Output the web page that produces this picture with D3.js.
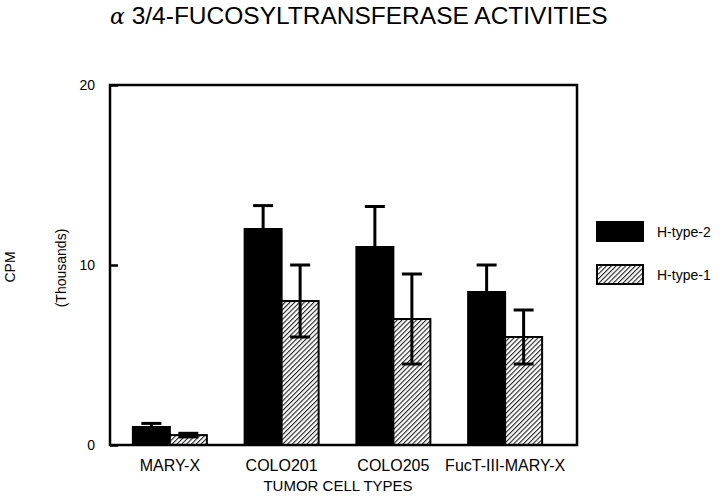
<!DOCTYPE html>
<html>
<head>
<meta charset="utf-8">
<script src="https://cdn.jsdelivr.net/npm/d3@7"></script>
<style>
  body { margin: 0; background: #fff; }
  text { font-family: "Liberation Sans", Arial, sans-serif; fill: #000; }
</style>
</head>
<body>
<div id="chart"></div>
<script>
// data (thousands of CPM)
var cellTypes = ["MARY-X", "COLO201", "COLO205", "FucT-III-MARY-X"];
var seriesNames = ["H-type-2", "H-type-1"];
var htype2 = [1.0, 12.0, 11.0, 8.5];
var htype2Err = [0.2, 1.3, 2.25, 1.5];
var htype1 = [0.55, 8.0, 7.0, 6.0];
var htype1Err = [0.1, 2.0, 2.5, 1.5];
var yTicks = [0, 10, 20];

var W = 720, H = 496;
var plot = {left: 110, top: 85, right: 577, bottom: 445};

var svg = d3.select("#chart")
  .append("svg")
    .attr("width", W)
    .attr("height", H);

// hatch pattern for H-type-1
var defs = svg.append("defs");
defs.append("pattern")
    .attr("id", "hatch")
    .attr("patternUnits", "userSpaceOnUse")
    .attr("width", 3.4)
    .attr("height", 3.4)
    .attr("patternTransform", "rotate(45)")
  .call(function(p) {
    p.append("rect").attr("width", 3.4).attr("height", 3.4).attr("fill", "#fff");
    p.append("line")
      .attr("x1", 0).attr("y1", 0).attr("x2", 0).attr("y2", 3.4)
      .attr("stroke", "#222").attr("stroke-width", 2.2);
  });

var x = d3.scaleBand()
  .domain(cellTypes)
  .range([114, 561])
  .padding(0);

var x1 = d3.scaleBand()
  .domain(seriesNames)
  .range([x.bandwidth() / 2 - 37, x.bandwidth() / 2 + 37]);

var y = d3.scaleLinear()
  .domain([0, 20])
  .range([plot.bottom, plot.top]);

var rows = cellTypes.map(function(c, i) {
  return [
    {cat: c, s: "H-type-2", v: htype2[i], e: htype2Err[i]},
    {cat: c, s: "H-type-1", v: htype1[i], e: htype1Err[i]}
  ];
});
var flat = d3.merge(rows);

var fillFor = function(s) { return s === "H-type-2" ? "#000" : "url(#hatch)"; };

// bars
svg.append("g").selectAll("rect")
  .data(flat)
  .enter().append("rect")
    .attr("x", function(d) { return x(d.cat) + x1(d.s); })
    .attr("y", function(d) { return y(d.v); })
    .attr("width", x1.bandwidth())
    .attr("height", function(d) { return y(0) - y(d.v); })
    .attr("fill", function(d) { return fillFor(d.s); })
    .attr("stroke", "#000")
    .attr("stroke-width", 2);

// error bars
var eb = svg.append("g").selectAll("g")
  .data(flat)
  .enter().append("g")
    .attr("transform", function(d) {
      return "translate(" + (x(d.cat) + x1(d.s) + x1.bandwidth() / 2) + ",0)";
    });
eb.append("line")
  .attr("y1", function(d) { return y(d.v - d.e); })
  .attr("y2", function(d) { return y(d.v + d.e); })
  .attr("stroke", "#000").attr("stroke-width", 3);
eb.append("line")
  .attr("x1", -10).attr("x2", 10)
  .attr("y1", function(d) { return y(d.v + d.e); })
  .attr("y2", function(d) { return y(d.v + d.e); })
  .attr("stroke", "#000").attr("stroke-width", 3);
eb.append("line")
  .attr("x1", -10).attr("x2", 10)
  .attr("y1", function(d) { return y(d.v - d.e); })
  .attr("y2", function(d) { return y(d.v - d.e); })
  .attr("stroke", "#000").attr("stroke-width", 3);

// frame
svg.append("rect")
  .attr("x", plot.left).attr("y", plot.top)
  .attr("width", plot.right - plot.left)
  .attr("height", plot.bottom - plot.top)
  .attr("fill", "none")
  .attr("stroke", "#000")
  .attr("stroke-width", 2.5);

// y axis
var yAxis = svg.append("g")
  .attr("transform", "translate(" + plot.left + ",0)")
  .call(d3.axisLeft(y).tickValues(yTicks).tickSize(-8).tickPadding(15));
yAxis.select(".domain").remove();
yAxis.selectAll("line").attr("stroke-width", 2.5);
yAxis.selectAll("text")
  .style("font-family", "'Liberation Sans', Arial, sans-serif")
  .style("font-size", "14px");

// x axis labels
var xAxis = svg.append("g")
  .attr("transform", "translate(0," + plot.bottom + ")")
  .call(d3.axisBottom(x).tickSize(0).tickPadding(15));
xAxis.select(".domain").remove();
xAxis.selectAll("text")
  .style("font-family", "'Liberation Sans', Arial, sans-serif")
  .style("font-size", "16px");

svg.append("text")
  .attr("x", 338).attr("y", 491)
  .attr("text-anchor", "middle")
  .style("font-size", "15px")
  .text("TUMOR CELL TYPES");

svg.append("text")
  .attr("transform", "translate(15,267) rotate(-90)")
  .attr("text-anchor", "middle")
  .style("font-size", "14px")
  .text("CPM");

svg.append("text")
  .attr("transform", "translate(66,268) rotate(-90)")
  .attr("text-anchor", "middle")
  .style("font-size", "14px")
  .text("(Thousands)");

// title
var title = svg.append("text")
  .attr("x", 110).attr("y", 24)
  .style("font-size", "24.5px");
title.append("tspan")
  .style("font-family", "'DejaVu Serif', serif")
  .style("font-style", "italic")
  .style("font-size", "22px")
  .text("\u03b1");
title.append("tspan")
  .text(" 3/4-FUCOSYLTRANSFERASE ACTIVITIES");

// legend
var legend = svg.append("g").selectAll("g")
  .data(seriesNames)
  .enter().append("g")
    .attr("transform", function(d, i) { return "translate(597," + (222 + i * 43) + ")"; });
legend.append("rect")
  .attr("width", 46).attr("height", 19)
  .attr("fill", function(d) { return fillFor(d); })
  .attr("stroke", "#000").attr("stroke-width", 2);
legend.append("text")
  .attr("x", 60).attr("y", 15)
  .style("font-size", "14px")
  .text(function(d) { return d; });
</script>
</body>
</html>
